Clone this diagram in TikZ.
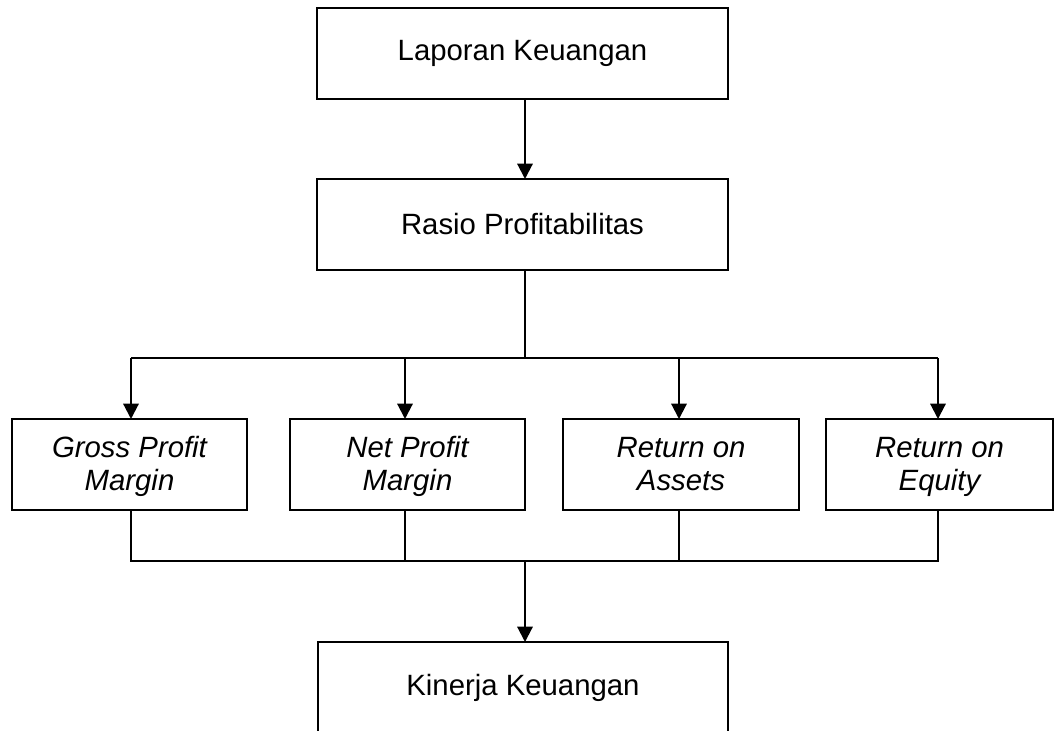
\documentclass[tikz,border=0pt]{standalone}
\usepackage{fontspec}
\setmainfont{Liberation Sans}
\usetikzlibrary{arrows.meta}
\newcommand{\topstrut}{\rule{0pt}{22pt}}
\begin{document}
\begin{tikzpicture}[x=0.75pt,y=-0.75pt,
  box/.style={draw,line width=1.1pt,rectangle,inner sep=0pt,outer sep=0pt,
    font=\fontsize{22}{25}\selectfont,align=center},
  ibox/.style={box,font=\fontsize{22}{25}\selectfont\itshape},
  arr/.style={line width=1.6pt,-{Triangle[width=11.5pt,length=11.5pt]}},
  thick line/.style={line width=1.6pt},
  thin line/.style={line width=1.1pt}]
\clip (0,0) rectangle (1056,731);
\node[box,minimum width=308.25pt,minimum height=68.25pt] (b1) at (522.5,53.5) {Laporan Keuangan};
\node[box,minimum width=308.25pt,minimum height=68.25pt] (b2) at (522.5,224.5) {Rasio Profitabilitas};
\node[ibox,minimum width=176.25pt,minimum height=68.25pt] (gpm) at (129.5,464.5) {\topstrut Gross Profit\\\strut Margin};
\node[ibox,minimum width=176.25pt,minimum height=68.25pt] (npm) at (407.5,464.5) {\topstrut Net Profit\\\strut Margin};
\node[ibox,minimum width=177pt,minimum height=68.25pt] (roa) at (681,464.5) {\topstrut Return on\\\strut Assets};
\node[ibox,minimum width=170.25pt,minimum height=68.25pt] (roe) at (939.5,464.5) {\topstrut Return on\\\strut Equity};
\node[box,minimum width=307.5pt,minimum height=68.25pt] (kin) at (523,687.5) {Kinerja Keuangan};
\coordinate (cx) at (525,0);
\coordinate (top) at (525,358);
\coordinate (bot) at (525,561);
\coordinate (g) at (131,0);
\coordinate (n) at (405,0);
\coordinate (a) at (679,0);
\coordinate (e) at (938,0);
\draw[arr] (b1.south -| cx) -- (b2.north -| cx);
\draw[thick line] (b2.south -| cx) -- (top);
\draw[thick line] (top -| g) -- (top -| e);
\draw[arr] (top -| g) -- (gpm.north -| g);
\draw[arr] (top -| n) -- (npm.north -| n);
\draw[arr] (top -| a) -- (roa.north -| a);
\draw[arr] (top -| e) -- (roe.north -| e);
\draw[thin line] (gpm.south -| g) -- (bot -| g) -- (bot -| e) -- (roe.south -| e);
\draw[thin line] (npm.south -| n) -- (bot -| n);
\draw[thin line] (roa.south -| a) -- (bot -| a);
\draw[arr] (bot) -- (kin.north -| cx);
\end{tikzpicture}
\end{document}
